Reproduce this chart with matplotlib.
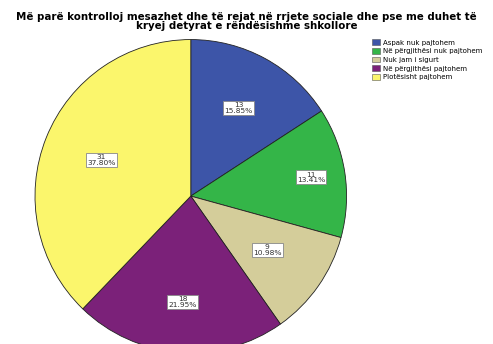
import numpy as np
import matplotlib.pyplot as plt

# survey answers
categories = ['Aspak nuk pajtohem', 'Në përgjithësi nuk pajtohem', 'Nuk jam i sigurt',
              'Në përgjithësi pajtohem', 'Plotësisht pajtohem']
counts = [13, 11, 9, 18, 31]
colors = ['#3d55a8', '#34b548', '#d4cd9a', '#7b2179', '#fbf66c']
title = 'Më parë kontrolloj mesazhet dhe të rejat në rrjete sociale dhe pse me duhet të\nkryej detyrat e rëndësishme shkollore'

fig = plt.figure(figsize=(4.93, 3.44), dpi=100)
fig.text(0.5, 0.965, title, ha='center', va='top', fontsize=7.4, fontweight='bold', linespacing=0.9)

ax = fig.add_axes([0.071, -0.025, 0.632, 0.91])
total = sum(counts)
wedges, _ = ax.pie(counts, colors=colors, startangle=90, counterclock=False,
                   wedgeprops=dict(edgecolor='#222222', linewidth=0.6))
ax.set_aspect('auto')
ax.set_xlim(-1, 1)
ax.set_ylim(-1, 1)

# label distance from center for each wedge (fraction of radius)
label_r = [0.64, 0.78, 0.6, 0.68, 0.62]
for w, c, r in zip(wedges, counts, label_r):
    ang = np.deg2rad((w.theta1 + w.theta2) / 2)
    ax.text(r * np.cos(ang), r * np.sin(ang), '%d\n%.2f%%' % (c, 100.0 * c / total),
            ha='center', va='center', fontsize=5.4, color='#333333', linespacing=0.95,
            bbox=dict(boxstyle='square,pad=0.15', fc='white', ec='#888888', lw=0.6))

leg = fig.legend(wedges, categories, loc='upper left', bbox_to_anchor=(0.745, 0.9),
                 fontsize=5, frameon=False, handlelength=1.1, handleheight=0.9,
                 labelspacing=0.35, handletextpad=0.4, borderpad=0.2)
for h in leg.legend_handles:
    h.set_edgecolor('#555555')
    h.set_linewidth(0.4)

fig.savefig('out.png', dpi=100)
